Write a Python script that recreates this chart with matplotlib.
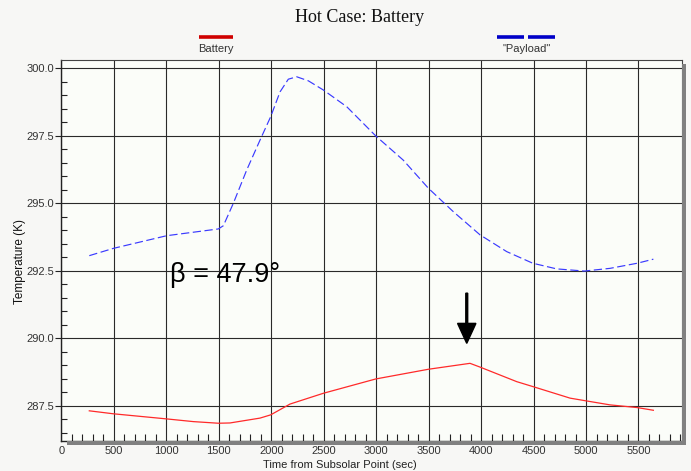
import matplotlib
matplotlib.use("Agg")
import matplotlib.pyplot as plt
from matplotlib.patches import Rectangle
from matplotlib.ticker import MultipleLocator

# Data
payload_t = [265, 494, 1003, 1495, 1543, 1638, 1765, 1892, 1994, 2083, 2162, 2242, 2353, 2496,
             2719, 2995, 3258, 3497, 3735, 3990, 4244, 4492, 4720, 4984, 5229, 5489, 5642]
payload_T = [293.06, 293.33, 293.80, 294.05, 294.17, 295.0, 296.23, 297.34, 298.21, 299.13, 299.60,
             299.69, 299.54, 299.20, 298.58, 297.50, 296.60, 295.56, 294.69, 293.83, 293.21, 292.78,
             292.57, 292.49, 292.59, 292.78, 292.93]
battery_t = [265, 494, 1003, 1257, 1495, 1606, 1892, 1994, 2178, 2496, 2995, 3497, 3894, 3990,
             4340, 4492, 4848, 4984, 5229, 5489, 5642]
battery_T = [287.31, 287.20, 287.01, 286.91, 286.85, 286.86, 287.04, 287.16, 287.56, 287.96, 288.49,
             288.85, 289.07, 288.93, 288.39, 288.21, 287.78, 287.69, 287.53, 287.43, 287.33]
x_ticks = [0, 500, 1000, 1500, 2000, 2500, 3000, 3500, 4000, 4500, 5000, 5500]
y_ticks = [287.5, 290.0, 292.5, 295.0, 297.5, 300.0]
title = "Hot Case: Battery"
xlabel = "Time from Subsolar Point (sec)"
ylabel = "Temperature (K)"
beta_text = "\u03b2 = 47.9\u00b0"
arrow_t = 3863
arrow_top, arrow_tip = 291.67, 289.81

W, H = 691, 471
fig = plt.figure(figsize=(W / 100, H / 100), dpi=100)
fig.patch.set_facecolor("#F7F7F5")

L, R, T, B = 61.5, 681.7, 59.5, 440.5
ax = fig.add_axes([L / W, 1 - B / H, (R - L) / W, (B - T) / H])
ax.set_facecolor("#FBFDF9")

# shadows
fig.patches.append(Rectangle((R / W, 1 - 445 / H), 4.5 / W, (445 - 64) / H,
                             transform=fig.transFigure, facecolor="#808080", edgecolor="none", zorder=0))
fig.patches.append(Rectangle((67 / W, 1 - 445 / H), (686 - 67) / W, 4.5 / H,
                             transform=fig.transFigure, facecolor="#808080", edgecolor="none", zorder=0))

ax.set_xlim(0, 5912)
ax.set_ylim(286.21, 300.33)

ax.plot(payload_t, payload_T, color="#3a3aff", lw=0.85, dashes=(7, 3), zorder=3)
ax.plot(battery_t, battery_T, color="#ff2a2a", lw=0.9, zorder=3)

ax.set_xticks(x_ticks)
ax.set_yticks(y_ticks)
ax.set_xticklabels([str(v) for v in x_ticks])
ax.set_yticklabels([f"{v:.1f}" for v in y_ticks])
ax.xaxis.set_minor_locator(MultipleLocator(100))
ax.yaxis.set_minor_locator(MultipleLocator(0.5))
ax.grid(True, which="major", color="#2a2a2a", lw=0.8)
ax.set_axisbelow(True)

ax.tick_params(axis="x", which="major", length=0, pad=4, labelsize=8, labelcolor="#333333")
ax.tick_params(axis="x", which="minor", direction="in", length=5, width=0.8, color="#222222")
ax.tick_params(axis="y", which="major", direction="out", length=4, width=0.8, pad=1,
               labelsize=8, labelcolor="#333333", color="#222222")
ax.tick_params(axis="y", which="minor", direction="in", length=4, width=0.8, color="#222222")
for lab in ax.get_xticklabels() + ax.get_yticklabels():
    lab.set_family(["Liberation Sans", "DejaVu Sans"])

for s in ["left", "bottom"]:
    ax.spines[s].set_color("#222222")
    ax.spines[s].set_linewidth(1.0)
for s in ["top", "right"]:
    ax.spines[s].set_color("#444444")
    ax.spines[s].set_linewidth(0.8)

# beta annotation
ax.text(1034, 292.09, beta_text, fontsize=19.5, family=["Liberation Sans", "DejaVu Sans"],
        ha="left", va="baseline", color="black", zorder=4)

# arrow
ax.arrow(arrow_t, arrow_top, 0, arrow_tip - arrow_top, width=18, head_width=175,
         head_length=0.74, length_includes_head=True, color="black", zorder=4)

# title and labels
fig.text(360 / W, 1 - 18 / H, title, ha="center", va="center", fontsize=13,
         family=["Liberation Serif", "DejaVu Serif"], color="#111111")
fig.text(340 / W, 1 - 465 / H, xlabel, ha="center", va="center", fontsize=8,
         family=["Liberation Sans", "DejaVu Sans"], color="#222222")
fig.text(20 / W, 1 - 262 / H, ylabel, ha="center", va="center", rotation=90, fontsize=8.5,
         family=["Liberation Sans", "DejaVu Sans"], color="#111111")

# legend (custom, above the plot)
fig.lines.append(plt.Line2D([199 / W, 233 / W], [1 - 37.3 / H] * 2, transform=fig.transFigure,
                            color="#d00000", lw=2.6, solid_capstyle="butt"))
fig.text(216 / W, 1 - 49 / H, "Battery", ha="center", va="center", fontsize=8,
         family=["Liberation Sans", "DejaVu Sans"], color="#333333")
for x0, x1 in [(497, 524), (528, 555)]:
    fig.lines.append(plt.Line2D([x0 / W, x1 / W], [1 - 37.3 / H] * 2, transform=fig.transFigure,
                                color="#0000c8", lw=2.6, solid_capstyle="butt"))
fig.text(527 / W, 1 - 49 / H, "\"Payload\"", ha="center", va="center", fontsize=8,
         family=["Liberation Sans", "DejaVu Sans"], color="#333333")

fig.savefig("out.png", dpi=100, facecolor=fig.get_facecolor())
